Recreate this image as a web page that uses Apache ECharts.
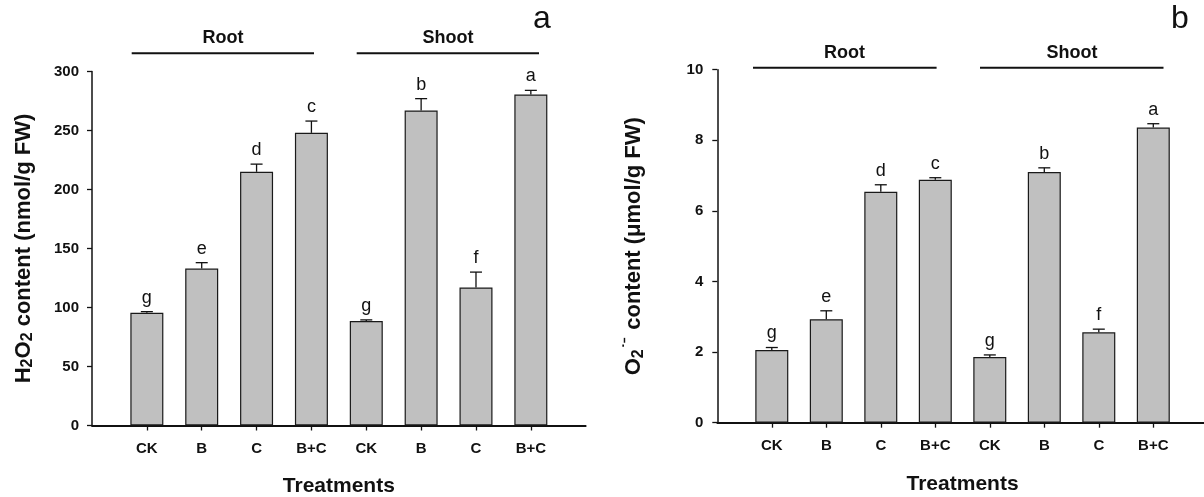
<!DOCTYPE html>
<html>
<head>
<meta charset="utf-8">
<script src="https://cdn.jsdelivr.net/npm/echarts@6/dist/echarts.min.js"></script>
<style>
html,body{margin:0;padding:0;background:#fff;}
#chart{width:1204px;height:497px;}
</style>
</head>
<body>
<div id="chart"></div>
<script>
// ---- data ----
const treatments = ['CK', 'B', 'C', 'B+C', 'CK', 'B', 'C', 'B+C'];
const groupNames = ['Root', 'Shoot'];
const h2o2Values = [95.5, 133, 215, 248, 88.5, 267, 117, 280.5];
const h2o2Errors = [1, 5, 6.5, 10, 1, 10, 13, 3.5];
const h2o2Letters = ['g', 'e', 'd', 'c', 'g', 'b', 'f', 'a'];
const o2Values = [2.06, 2.93, 6.54, 6.88, 1.86, 7.10, 2.56, 8.36];
const o2Errors = [0.07, 0.24, 0.2, 0.06, 0.06, 0.12, 0.09, 0.11];
const o2Letters = ['g', 'e', 'd', 'c', 'g', 'b', 'f', 'a'];
const h2o2Ticks = [0, 300, 50];
const o2Ticks = [0, 10, 2];

// ---- build ----
const FONT = '"Liberation Sans", Arial, sans-serif';
const axisData = [''].concat(treatments).concat(['']);
const padSeries = arr => ['-'].concat(arr).concat(['-']);

function errSeries(values, errors, letters, idx) {
  return {
    type: 'custom', xAxisIndex: idx, yAxisIndex: idx, z: 5,
    data: values.map((v, i) => [i + 1, v, errors[i]]),
    encode: {x: 0, y: 1},
    renderItem: function (params, api) {
      const x = api.value(0), v = api.value(1), e = api.value(2);
      const p0 = api.coord([x, v]);
      const p1 = api.coord([x, v + e]);
      const hw = 6;
      return {
        type: 'group',
        children: [
          {type: 'line', shape: {x1: p0[0], y1: p0[1], x2: p1[0], y2: p1[1]}, style: {stroke: '#111', lineWidth: 1.3}},
          {type: 'line', shape: {x1: p1[0] - hw, y1: p1[1], x2: p1[0] + hw, y2: p1[1]}, style: {stroke: '#111', lineWidth: 1.3}},
          {type: 'text', x: p1[0], y: p1[1] - 5, style: {text: letters[params.dataIndex], fontFamily: FONT, fontSize: 18, fill: '#111', align: 'center', verticalAlign: 'bottom'}}
        ]
      };
    }
  };
}

function xAxis(idx, gap) {
  return {
    type: 'category', gridIndex: idx, data: axisData, boundaryGap: false,
    axisLine: {lineStyle: {color: '#111', width: 1.8}},
    axisTick: {length: 5, lineStyle: {color: '#111', width: 1.3}, interval: function (i) { return i > 0 && i < axisData.length - 1; }},
    axisLabel: {interval: 0, margin: 16, color: '#111', fontFamily: FONT, fontWeight: 'bold', fontSize: 15},
    name: 'Treatments', nameLocation: 'middle', nameGap: gap,
    nameTextStyle: {fontFamily: FONT, fontWeight: 'bold', fontSize: 21, color: '#111'}
  };
}

function yAxis(idx, ticks, name, gap, margin) {
  return {
    type: 'value', gridIndex: idx, min: ticks[0], max: ticks[1], interval: ticks[2],
    axisLine: {show: true, lineStyle: {color: '#111', width: 1.5}},
    axisTick: {show: true, length: 5, lineStyle: {color: '#111', width: 1.3}},
    axisLabel: {margin: margin, color: '#111', fontFamily: FONT, fontWeight: 'bold', fontSize: 15},
    splitLine: {show: false},
    name: name, nameLocation: 'middle', nameRotate: 90, nameGap: gap,
    nameTextStyle: {
      fontFamily: FONT, fontWeight: 'bold', fontSize: 22, color: '#111',
      rich: {
        sub: {fontFamily: FONT, fontWeight: 'bold', fontSize: 16, color: '#111', padding: [9, 0, 0, 0], verticalAlign: 'bottom'},
        sup: {fontFamily: FONT, fontWeight: 'bold', fontSize: 16, color: '#111', padding: [0, 2, 2, 1], verticalAlign: 'top'}
      }
    }
  };
}

function barSeries(values, idx) {
  return {
    type: 'bar', xAxisIndex: idx, yAxisIndex: idx, barWidth: 33,
    data: padSeries(values),
    itemStyle: {color: '#c0c0c0', borderColor: '#1a1a1a', borderWidth: 1.2},
    silent: true
  };
}

function hline(x1, x2, y) {
  return {type: 'line', shape: {x1: x1, y1: y, x2: x2, y2: y}, style: {stroke: '#111', lineWidth: 2}, silent: true};
}
function txt(t, x, y, size, weight) {
  return {type: 'text', x: x, y: y, style: {text: t, fontFamily: FONT, fontSize: size, fontWeight: weight, fill: '#111', align: 'center', verticalAlign: 'middle'}, silent: true};
}

const option = {
  animation: false,
  backgroundColor: '#fff',
  grid: [
    {left: 92, top: 71.5, width: 493.7, height: 354, containLabel: false, outerBoundsMode: 'none'},
    {left: 717.3, top: 69.7, width: 490.5, height: 353, containLabel: false, outerBoundsMode: 'none'}
  ],
  xAxis: [xAxis(0, 50), xAxis(1, 51)],
  yAxis: [
    yAxis(0, h2o2Ticks, 'H{sub|2}O{sub|2} content (nmol/g FW)', 56, 13),
    yAxis(1, o2Ticks, 'O{sub|2}{sup|˙⁻} content (μmol/g FW)', 71, 14)
  ],
  series: [
    barSeries(h2o2Values, 0), errSeries(h2o2Values, h2o2Errors, h2o2Letters, 0),
    barSeries(o2Values, 1), errSeries(o2Values, o2Errors, o2Letters, 1)
  ],
  graphic: [
    hline(131.7, 314, 53.3), hline(356.7, 539, 53.3),
    hline(753, 936.6, 67.7), hline(980, 1163.5, 67.7),
    txt(groupNames[0], 223, 38.5, 18, 'bold'), txt(groupNames[1], 448, 38.5, 18, 'bold'),
    txt(groupNames[0], 844.5, 52.8, 18, 'bold'), txt(groupNames[1], 1072, 52.8, 18, 'bold'),
    txt('a', 542, 19.3, 32, 'normal'), txt('b', 1180, 19, 32, 'normal')
  ]
};

const chart = echarts.init(document.getElementById('chart'), null, {renderer: 'canvas'});
chart.setOption(option);
</script>
</body>
</html>
